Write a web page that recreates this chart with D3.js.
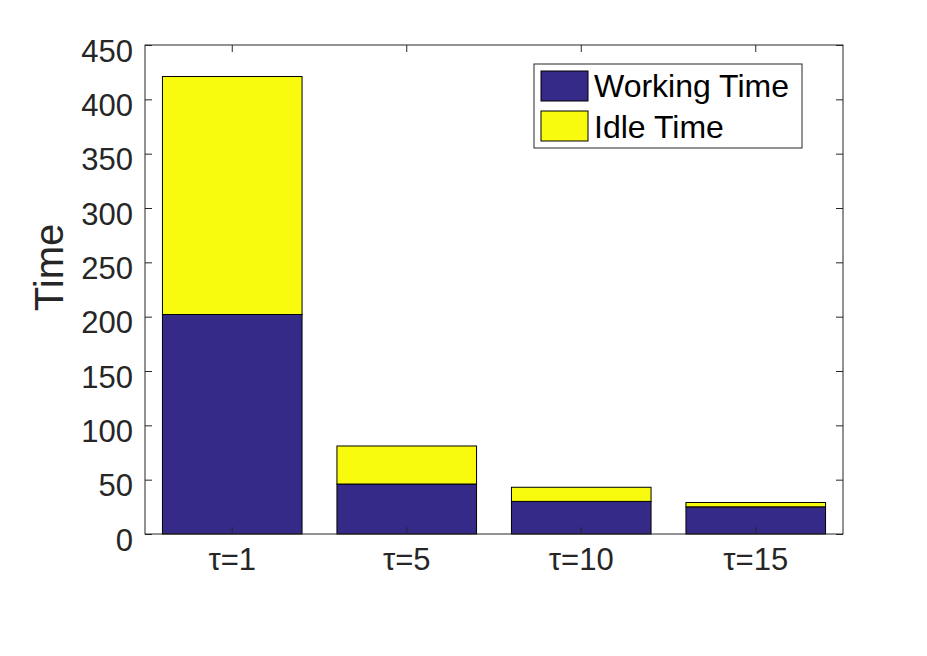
<!DOCTYPE html>
<html><head><meta charset="utf-8">
<script src="https://cdn.jsdelivr.net/npm/d3@7"></script>
<style>body{margin:0;background:#fff;} svg{display:block;}</style>
</head><body>
<script>
const categories = ["τ=1", "τ=5", "τ=10", "τ=15"];
const workingTime = [202, 46, 30, 25];
const idleTime = [219, 35, 13, 4];
const seriesNames = ["Working Time", "Idle Time"];
const yTicks = [0, 50, 100, 150, 200, 250, 300, 350, 400, 450];

const W = 927, H = 656;
const m = {left: 145, right: 84, top: 45, bottom: 122};
const colors = ["#352a87", "#f9fb0e"];
const axisColor = "#262626";

const svg = d3.select("body").append("svg").attr("width", W).attr("height", H);
const x = d3.scaleBand().domain(categories).range([m.left, W - m.right]).paddingInner(0.2).paddingOuter(0.1);
const y = d3.scaleLinear().domain([0, 450]).range([H - m.bottom, m.top]);

const data = categories.map((c, i) => ({cat: c, working: workingTime[i], idle: idleTime[i]}));
const stack = d3.stack().keys(["working", "idle"])(data);

const g = svg.append("g");
stack.forEach((s, si) => {
  g.selectAll(null).data(s).enter().append("rect")
    .attr("x", d => x(d.data.cat))
    .attr("width", x.bandwidth())
    .attr("y", d => y(d[1]))
    .attr("height", d => y(d[0]) - y(d[1]))
    .attr("fill", colors[si])
    .attr("stroke", "#000").attr("stroke-width", 1);
});

const tickLen = 7;
const font = "'Liberation Sans', Arial, sans-serif";
const yAxis = d3.axisLeft(y).tickValues(yTicks).tickSizeInner(-tickLen).tickSizeOuter(0).tickPadding(12);
const yA = svg.append("g").attr("transform", `translate(${m.left},0)`).call(yAxis);
const yR = svg.append("g").attr("transform", `translate(${W - m.right},0)`)
  .call(d3.axisRight(y).tickValues(yTicks).tickSizeInner(-tickLen).tickSizeOuter(0).tickFormat(""));
const xAxis = d3.axisBottom(x).tickSizeInner(-tickLen).tickSizeOuter(0).tickPadding(14);
const xA = svg.append("g").attr("transform", `translate(0,${H - m.bottom})`).call(xAxis);
const xT = svg.append("g").attr("transform", `translate(0,${m.top})`)
  .call(d3.axisTop(x).tickSizeInner(-tickLen).tickSizeOuter(0).tickFormat(""));
[yA, yR, xA, xT].forEach(a => {
  a.select(".domain").remove();
  a.selectAll("line").attr("stroke", axisColor);
  a.selectAll("text").attr("fill", axisColor).style("font-family", font).style("font-size", "31px");
});
xA.selectAll("text").attr("dy", "0.71em");
yA.selectAll("text").attr("dy", "0.52em");
svg.append("rect").attr("x", m.left).attr("y", m.top)
  .attr("width", W - m.left - m.right).attr("height", H - m.top - m.bottom)
  .attr("fill", "none").attr("stroke", axisColor).attr("stroke-width", 1);

svg.append("text").attr("transform", `translate(63,${(m.top + H - m.bottom) / 2 - 22}) rotate(-90)`)
  .attr("text-anchor", "middle").attr("fill", axisColor)
  .style("font-family", font).style("font-size", "40px").text("Time");

const lg = svg.append("g");
lg.append("rect").attr("x", 534).attr("y", 64).attr("width", 268).attr("height", 84)
  .attr("fill", "#fff").attr("stroke", axisColor).attr("stroke-width", 1);
seriesNames.forEach((n, i) => {
  lg.append("rect").attr("x", 541).attr("y", 71 + i * 40).attr("width", 47).attr("height", 30)
    .attr("fill", colors[i]).attr("stroke", "#000");
  lg.append("text").attr("x", 594).attr("y", 97 + i * 41).attr("fill", "#000")
    .style("font-family", font).style("font-size", "32px").text(n);
});
</script>
</body></html>
